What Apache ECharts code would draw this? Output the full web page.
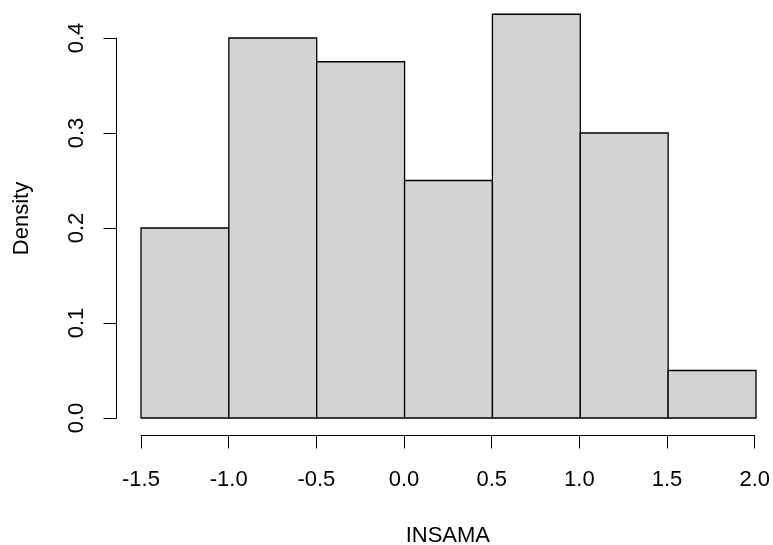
<!DOCTYPE html>
<html><head><meta charset="utf-8">
<script src="https://cdn.jsdelivr.net/npm/echarts@6/dist/echarts.min.js"></script>
<style>html,body{margin:0;padding:0;background:#fff}#c{width:773px;height:545px}</style>
</head><body><div id="c"></div>
<script>
const binStarts = [-1.5, -1.0, -0.5, 0.0, 0.5, 1.0, 1.5];
const binEnds   = [-1.0, -0.5, 0.0, 0.5, 1.0, 1.5, 2.0];
const densities = [0.2, 0.4, 0.375, 0.25, 0.425, 0.3, 0.05];
const xTicks = [-1.5, -1.0, -0.5, 0.0, 0.5, 1.0, 1.5, 2.0];
const yTicks = [0.0, 0.1, 0.2, 0.3, 0.4];
const xLabel = 'INSAMA';
const yLabel = 'Density';

const FONT = 'Liberation Sans, Arial, sans-serif';
const chart = echarts.init(document.getElementById('c'), null, {renderer: 'canvas'});
const fmt = v => Number(v).toFixed(1);

chart.setOption({
  animation: false,
  backgroundColor: '#fff',
  grid: [
    {left: 141, right: 17, top: 0, bottom: 108},
    {left: 116.5, width: 1, top: 38, bottom: 127},
    {left: 141, right: 17, top: 435.5, bottom: 109.5}
  ],
  xAxis: [
    {gridIndex: 0, type: 'value', min: xTicks[0], max: xTicks[xTicks.length-1], show: false},
    {gridIndex: 1, type: 'value', show: false},
    {gridIndex: 2, type: 'value', position: 'bottom',
     min: xTicks[0], max: xTicks[xTicks.length-1], interval: 0.5,
     axisLine: {show: true, onZero: false, lineStyle: {color: '#000', width: 1}},
     axisTick: {show: true, length: 13, lineStyle: {color: '#000', width: 1}},
     axisLabel: {show: true, fontSize: 22, fontFamily: FONT, color: '#000', margin: 33,
                 formatter: fmt, showMinLabel: true, showMaxLabel: true, hideOverlap: false},
     splitLine: {show: false},
     name: xLabel, nameLocation: 'middle', nameGap: 89,
     nameTextStyle: {fontSize: 22, fontFamily: FONT, color: '#000'}}
  ],
  yAxis: [
    {gridIndex: 0, type: 'value', min: -0.02, max: 0.44,
     axisLine: {show: false}, axisTick: {show: false}, axisLabel: {show: false}, splitLine: {show: false},
     name: yLabel, nameLocation: 'middle', nameGap: 108,
     nameTextStyle: {fontSize: 22, fontFamily: FONT, color: '#000'}},
    {gridIndex: 1, type: 'value', position: 'left',
     min: yTicks[0], max: yTicks[yTicks.length-1], interval: 0.1,
     axisLine: {show: true, onZero: false, lineStyle: {color: '#000', width: 1}},
     axisTick: {show: true, length: 13, lineStyle: {color: '#000', width: 1}},
     axisLabel: {show: true, fontSize: 22, fontFamily: FONT, color: '#000', margin: 29, rotate: 90,
                 formatter: fmt, showMinLabel: true, showMaxLabel: true, hideOverlap: false},
     splitLine: {show: false}},
    {gridIndex: 2, type: 'value', show: false}
  ],
  series: [{
    type: 'custom',
    xAxisIndex: 0, yAxisIndex: 0,
    data: binStarts.map((s, i) => [s, binEnds[i], densities[i]]),
    encode: {x: [0, 1], y: 2},
    renderItem: function (params, api) {
      const p0 = api.coord([api.value(0), api.value(2)]);
      const p1 = api.coord([api.value(1), 0]);
      return {
        type: 'rect',
        shape: {x: p0[0], y: p0[1], width: p1[0] - p0[0], height: p1[1] - p0[1]},
        style: {fill: '#d3d3d3', stroke: '#000', lineWidth: 1.3}
      };
    }
  }]
});
</script></body></html>
